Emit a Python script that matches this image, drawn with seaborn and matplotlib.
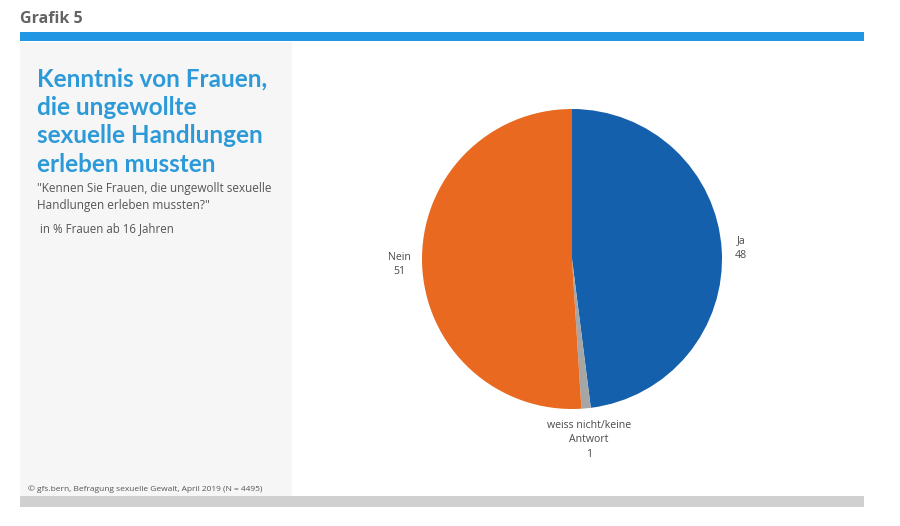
import matplotlib
matplotlib.use("Agg")
import matplotlib.pyplot as plt
import seaborn as sns
import numpy as np
from matplotlib.patches import Rectangle

# ---- data ----
categories = ["Ja", "weiss nicht/keine\nAntwort", "Nein"]
values = [48, 1, 51]
colors = ["#1560ad", "#a6a6a6", "#e8691f"]

sns.set_theme(style="white")
plt.rcParams['font.family'] = ['Open Sans', 'DejaVu Sans']

W, H = 900, 526
fig = plt.figure(figsize=(W / 100, H / 100), dpi=100)
fig.patch.set_facecolor("white")

def px_rect(x0, y0, x1, y1, color):
    fig.patches.append(Rectangle((x0 / W, 1 - y1 / H), (x1 - x0) / W, (y1 - y0) / H,
                                 transform=fig.transFigure, color=color, zorder=0, lw=0))

# decorations
px_rect(20, 32, 864, 41, "#2196e3")
px_rect(20, 42, 292, 496, "#f6f6f6")
px_rect(20, 496, 864, 507, "#d0d0d0")

fig.text(20 / W, 1 - 19 / H, "Grafik 5", fontsize=11.5, fontweight="bold",
         color="#636363", va="center", ha="left")

fig.text(37 / W, 1 - 67 / H,
         "Kenntnis von Frauen,\ndie ungewollte\nsexuelle Handlungen\nerleben mussten",
         fontsize=17.5, fontweight="bold", color="#2c9ad9", va="top", ha="left",
         linespacing=1.3, family=["Lato", "DejaVu Sans"])
fig.text(37 / W, 1 - 182 / H,
         "\"Kennen Sie Frauen, die ungewollt sexuelle\nHandlungen erleben mussten?\"",
         fontsize=8.5, color="#555555", va="top", ha="left", linespacing=1.38)
fig.text(40 / W, 1 - 229 / H, "in % Frauen ab 16 Jahren",
         fontsize=8.3, color="#555555", va="center", ha="left")
fig.text(28 / W, 1 - 489 / H,
         "© gfs.bern, Befragung sexuelle Gewalt, April 2019 (N = 4495)",
         fontsize=6.0, color="#555555", va="center", ha="left")

# pie axes
cx, cy, r = 572, 259, 150
ax = fig.add_axes([(cx - r) / W, 1 - (cy + r) / H, 2 * r / W, 2 * r / H])
labels = [f"{c}\n{v}" for c, v in zip(categories, values)]
wedges, texts = ax.pie(values, labels=labels, colors=colors, startangle=90,
                       counterclock=False, radius=1.0, labeldistance=1.14,
                       wedgeprops=dict(linewidth=0),
                       textprops=dict(fontsize=7.6, color="#4a4a4a"))
dists = [1.13, 1.21, 1.15]
for w, t, d in zip(wedges, texts, dists):
    ang = np.deg2rad((w.theta1 + w.theta2) / 2)
    t.set_position((d * np.cos(ang), d * np.sin(ang)))
    t.set_ha("center")
    t.set_multialignment("center")
    t.set_linespacing(1.45)
ax.set_xlim(-1, 1)
ax.set_ylim(-1, 1)
ax.set_aspect("equal")
ax.axis("off")

fig.savefig("out.png", dpi=100, facecolor="white")
